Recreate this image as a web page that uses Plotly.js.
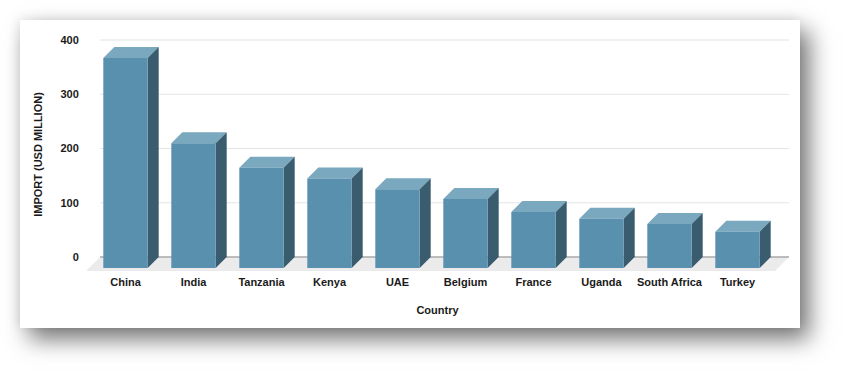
<!DOCTYPE html>
<html>
<head>
<meta charset="utf-8">
<script src="https://cdn.plot.ly/plotly-3.0.1.min.js"></script>
<style>
  html, body { margin: 0; padding: 0; background: #ffffff; width: 848px; height: 375px; overflow: hidden; }
  #card { position: absolute; left: 20px; top: 20px; width: 780px; height: 308px; background: #ffffff;
          box-shadow: 9px 11px 22px rgba(0,0,0,0.55), -2px -2px 10px rgba(0,0,0,0.08); }
  #chart { position: absolute; left: 0; top: 0; width: 848px; height: 375px; }
</style>
</head>
<body>
<div id="card"></div>
<div id="chart"></div>
<script>
// ---- data ----
var countries = ['China', 'India', 'Tanzania', 'Kenya', 'UAE', 'Belgium', 'France', 'Uganda', 'South Africa', 'Turkey'];
var imports = [387, 230, 185, 165, 145, 127, 103, 91, 81, 67];
var yTicks = [0, 100, 200, 300, 400];

// ---- geometry (axis units) ----
var pxPerUnitX = 68;          // pixels per category
var pxPerUnitY = 0.5425;      // pixels per USD million
var depthPx = 11;             // 3D depth of bars
var floorPx = 14;             // 3D depth of floor
var barW = 44.4 / pxPerUnitX;
var dx = depthPx / pxPerUnitX;
var dy = depthPx / pxPerUnitY;
var fdx = floorPx / pxPerUnitX;
var fdy = floorPx / pxPerUnitY;

var mL = 85, mR = 848 - 790, mT = 37, mB = 375 - 272;
var x0px = 125.5, zeroPx = 257;
var xRange = [(mL - x0px) / pxPerUnitX, (848 - mR - x0px) / pxPerUnitX];
var yRange = [(zeroPx - (375 - mB)) / pxPerUnitY, (zeroPx - mT) / pxPerUnitY];
var gridX0 = (100 - x0px) / pxPerUnitX, gridX1 = (789 - x0px) / pxPerUnitX;

var idx = countries.map(function (c, i) { return i; });

var frontCol = '#5990ae', topCol = '#79a8bf', sideCol = '#395c6e';

var shapes = [];
// floor
shapes.push({
  type: 'path', layer: 'below', xref: 'x', yref: 'y',
  path: 'M' + gridX0 + ',0 L' + gridX1 + ',0 L' + (gridX1 - fdx) + ',' + (-fdy) + ' L' + (gridX0 - fdx) + ',' + (-fdy) + ' Z',
  fillcolor: '#ebebeb', line: { width: 0 }
});
// gridlines (back wall)
yTicks.forEach(function (v) {
  shapes.push({
    type: 'line', layer: 'below', xref: 'x', yref: 'y',
    x0: gridX0, x1: gridX1, y0: v, y1: v,
    line: { color: v === 0 ? '#a9a9a9' : '#e4e4e4', width: v === 0 ? 1.6 : 1 }
  });
});
// 3D faces
idx.forEach(function (i) {
  var xl = i - barW / 2, xr = i + barW / 2;
  var base = -dy, top = imports[i] - dy;
  // top face
  shapes.push({
    type: 'path', layer: 'below', xref: 'x', yref: 'y',
    path: 'M' + xl + ',' + top + ' L' + xr + ',' + top + ' L' + (xr + dx) + ',' + (top + dy) + ' L' + (xl + dx) + ',' + (top + dy) + ' Z',
    fillcolor: topCol, line: { width: 0 }
  });
  // side face
  shapes.push({
    type: 'path', layer: 'below', xref: 'x', yref: 'y',
    path: 'M' + xr + ',' + base + ' L' + xr + ',' + top + ' L' + (xr + dx) + ',' + (top + dy) + ' L' + (xr + dx) + ',' + (base + dy) + ' Z',
    fillcolor: sideCol, line: { width: 0 }
  });
});

var trace = {
  type: 'bar', x: idx, y: imports, base: -dy, width: barW,
  marker: { color: frontCol, line: { width: 0 } },
  hoverinfo: 'skip', showlegend: false
};

var fontFam = '"Liberation Sans", Arial, sans-serif';
var layout = {
  width: 848, height: 375,
  margin: { l: mL, r: mR, t: mT, b: mB },
  paper_bgcolor: 'rgba(0,0,0,0)', plot_bgcolor: 'rgba(0,0,0,0)',
  showlegend: false,
  xaxis: {
    range: xRange, tickvals: idx, ticktext: countries,
    showgrid: false, zeroline: false, showline: false,
    ticks: '', ticklabelstandoff: 2,
    tickfont: { family: fontFam, size: 11, color: '#1a1a1a', weight: 'bold' },
    title: { text: 'Country', standoff: 19, font: { family: fontFam, size: 11, color: '#1a1a1a', weight: 'bold' } },
    fixedrange: true
  },
  yaxis: {
    range: yRange, tickvals: yTicks,
    showgrid: false, zeroline: false, showline: false,
    ticks: 'outside', ticklen: 3, tickcolor: 'rgba(0,0,0,0)',
    tickfont: { family: fontFam, size: 11, color: '#1a1a1a', weight: 'bold' },
    title: { text: 'IMPORT (USD MILLION)', standoff: 15, font: { family: fontFam, size: 11, color: '#1a1a1a', weight: 'bold' } },
    fixedrange: true
  },
  shapes: shapes
};

Plotly.newPlot('chart', [trace], layout, { displayModeBar: false, staticPlot: true });
</script>
</body>
</html>
